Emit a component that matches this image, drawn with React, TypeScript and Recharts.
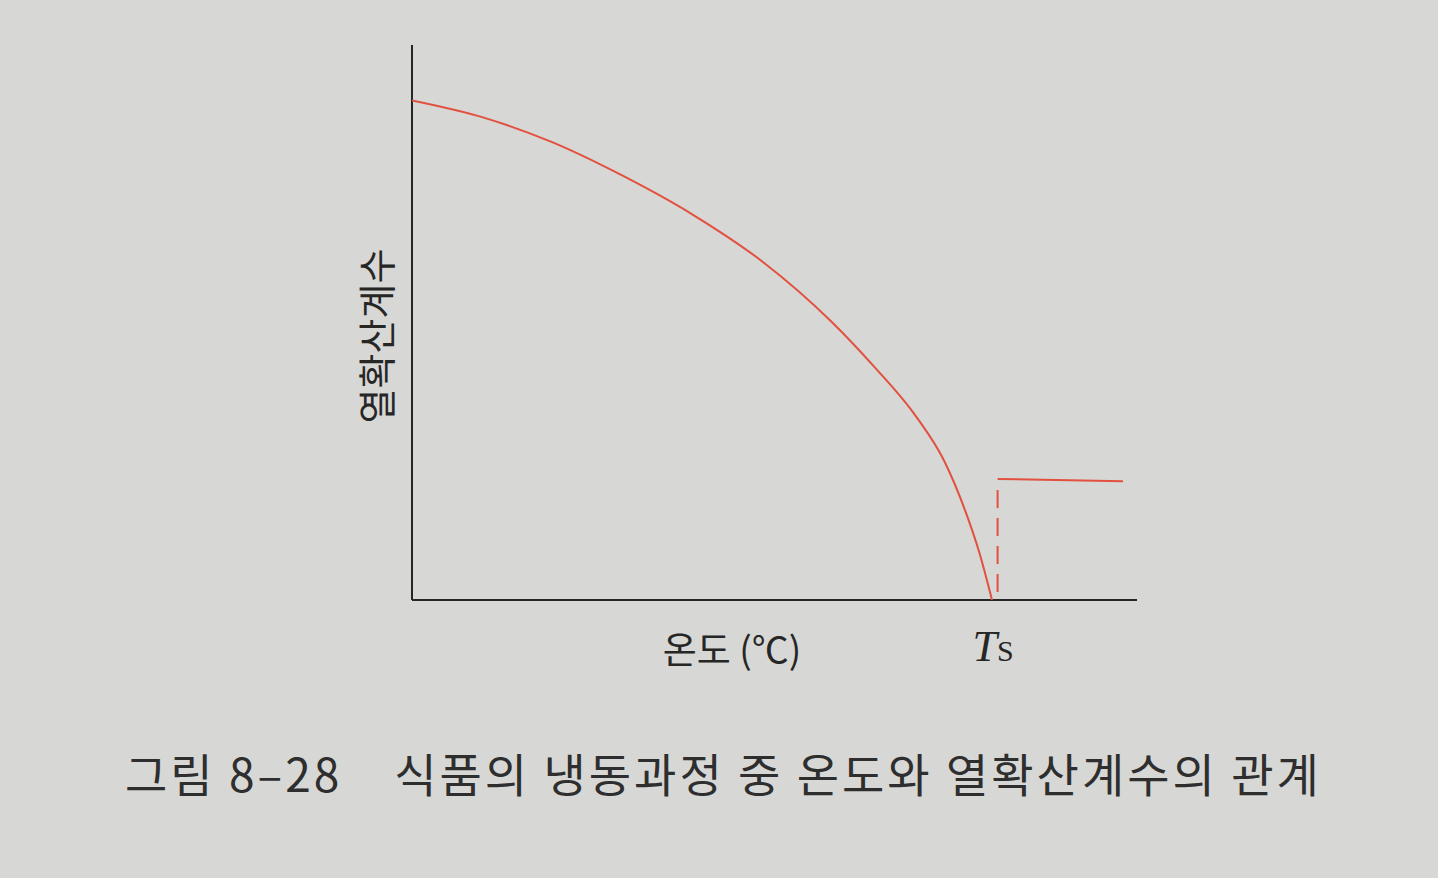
import React from "react";
import { LineChart, Line, XAxis, YAxis, ReferenceLine } from "recharts";

const curveX = [0, 10, 20, 30, 40, 50, 60, 66, 72, 76, 79, 81, 82.8];
const curveY = [90, 87, 82.5, 76.5, 69.5, 61, 50, 42, 33, 25, 16, 8.5, 0];
const dashX = [83.6, 83.6];
const dashY = [19.8, 0];
const flatX = [83.6, 101.5];
const flatY = [21.8, 21.4];

const curveData = curveX.map((x, i) => ({ x, y: curveY[i] }));
const dashData = dashX.map((x, i) => ({ x, y: dashY[i] }));
const flatData = flatX.map((x, i) => ({ x, y: flatY[i] }));

const RED = "#e2503f";
const INK = "#262626";

export default function App() {
  return (
    <div
      style={{
        position: "absolute",
        left: 0,
        top: 0,
        width: 1438,
        height: 878,
        background: "#d7d7d5",
        overflow: "hidden",
        fontFamily: "'Noto Sans CJK KR', sans-serif",
      }}
    >
      <LineChart
        width={1438}
        height={878}
        margin={{ left: 412, right: 301, top: 45, bottom: 278 }}
      >
        <XAxis type="number" dataKey="x" domain={[0, 103.5]} hide allowDataOverflow />
        <YAxis type="number" dataKey="y" domain={[0, 100]} hide allowDataOverflow />
        <ReferenceLine x={0} stroke={INK} strokeWidth={2} />
        <ReferenceLine y={0} stroke={INK} strokeWidth={2} />
        <Line data={curveData} dataKey="y" type="monotone" stroke={RED} strokeWidth={2} dot={false} isAnimationActive={false} />
        <Line data={dashData} dataKey="y" type="linear" stroke={RED} strokeWidth={2} strokeDasharray="18 10" dot={false} isAnimationActive={false} />
        <Line data={flatData} dataKey="y" type="linear" stroke={RED} strokeWidth={2} dot={false} isAnimationActive={false} />
      </LineChart>
      <div
        style={{
          position: "absolute",
          left: 374,
          top: 336,
          transform: "translate(-50%, -50%) rotate(-90deg)",
          fontSize: 38,
          color: INK,
          whiteSpace: "nowrap",
        }}
      >
        열확산계수
      </div>
      <div
        style={{
          position: "absolute",
          left: 732,
          top: 648,
          transform: "translate(-50%, -50%)",
          fontSize: 37,
          color: INK,
          whiteSpace: "nowrap",
        }}
      >
        온도 (℃)
      </div>
      <div
        style={{
          position: "absolute",
          left: 993,
          top: 646,
          transform: "translate(-50%, -50%)",
          fontSize: 44,
          color: INK,
          whiteSpace: "nowrap",
          fontFamily: "'Liberation Serif', serif",
        }}
      >
        <i>T</i>
        <span style={{ fontSize: 30 }}>S</span>
      </div>
      <div
        style={{
          position: "absolute",
          left: 125,
          top: 772,
          transform: "translateY(-50%)",
          fontSize: 46,
          color: "#2e2e2e",
          whiteSpace: "nowrap",
          letterSpacing: 3,
        }}
      >
        그림 8–28<span style={{ display: "inline-block", width: 52 }} />식품의 냉동과정 중 온도와 열확산계수의 관계
      </div>
    </div>
  );
}
